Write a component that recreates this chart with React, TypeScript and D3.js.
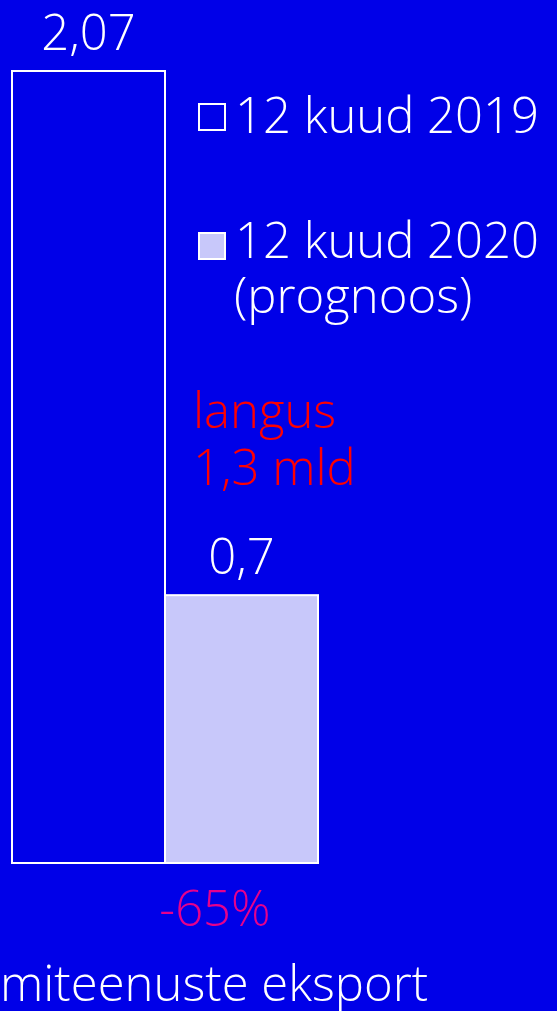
import React from 'react';
import * as d3 from 'd3';

const categories = ['12 kuud 2019', '12 kuud 2020'];
const values = [2.07, 0.7];
const valueLabels = ['2,07', '0,7'];
const legendLabels = [['12 kuud 2019'], ['12 kuud 2020', '(prognoos)']];
const dropLabel = ['langus', '1,3 mld'];
const changeLabel = '-65%';
const axisLabel = 'miteenuste eksport';

const W = 557;
const H = 1011;
const BG = '#0000e8';
const fills = [BG, '#c8c8fa'];
const FONT = '"Open Sans", Lato, sans-serif';
const FS = 49;
const FW = 350;

const App: React.FC = () => {
    const x = d3.scaleBand<string>().domain(categories).range([12, 318]).padding(0);
    const y = d3.scaleLinear().domain([0, 2.07]).range([863, 71]);

    return (
        <svg width={W} height={H} style={{ display: 'block', position: 'absolute', left: 0, top: 0 }}>
            <rect x={0} y={0} width={W} height={H} fill={BG} />
            {categories.map((c, i) => (
                <g key={c}>
                    <rect
                        x={x(c)}
                        y={y(values[i])}
                        width={x.bandwidth()}
                        height={y(0) - y(values[i])}
                        fill={fills[i]}
                        stroke="#fff"
                        strokeWidth={2}
                    />
                    <text
                        x={(x(c) as number) + x.bandwidth() / 2}
                        y={y(values[i]) - 21}
                        textAnchor="middle"
                        fill="#fff"
                        fontSize={FS}
                        fontWeight={FW}
                        fontFamily={FONT}
                    >
                        {valueLabels[i]}
                    </text>
                </g>
            ))}
            {legendLabels.map((lines, i) => (
                <g key={i} transform={`translate(198, ${133 + i * 125})`}>
                    <rect x={1} y={i === 0 ? -29 : -25} width={26} height={26} fill={fills[i]} stroke="#fff" strokeWidth={2} />
                    {lines.map((l, j) => (
                        <text
                            key={j}
                            x={j === 0 ? 37 : 36}
                            y={j * 55}
                            fill="#fff"
                            fontSize={FS}
                            fontWeight={FW}
                            fontFamily={FONT}
                        >
                            {l}
                        </text>
                    ))}
                </g>
            ))}
            {dropLabel.map((l, j) => (
                <text key={j} x={193} y={428 + j * 57} fill="#ff0000" fontSize={FS} fontWeight={FW} fontFamily={FONT}>
                    {l}
                </text>
            ))}
            <text x={215} y={926} textAnchor="middle" fill="#e6008c" fontSize={FS} fontWeight={FW} fontFamily={FONT}>
                {changeLabel}
            </text>
            <text x={0} y={1001} fill="#fff" fontSize={FS} fontWeight={FW} fontFamily={FONT}>
                {axisLabel}
            </text>
        </svg>
    );
};

export default App;
